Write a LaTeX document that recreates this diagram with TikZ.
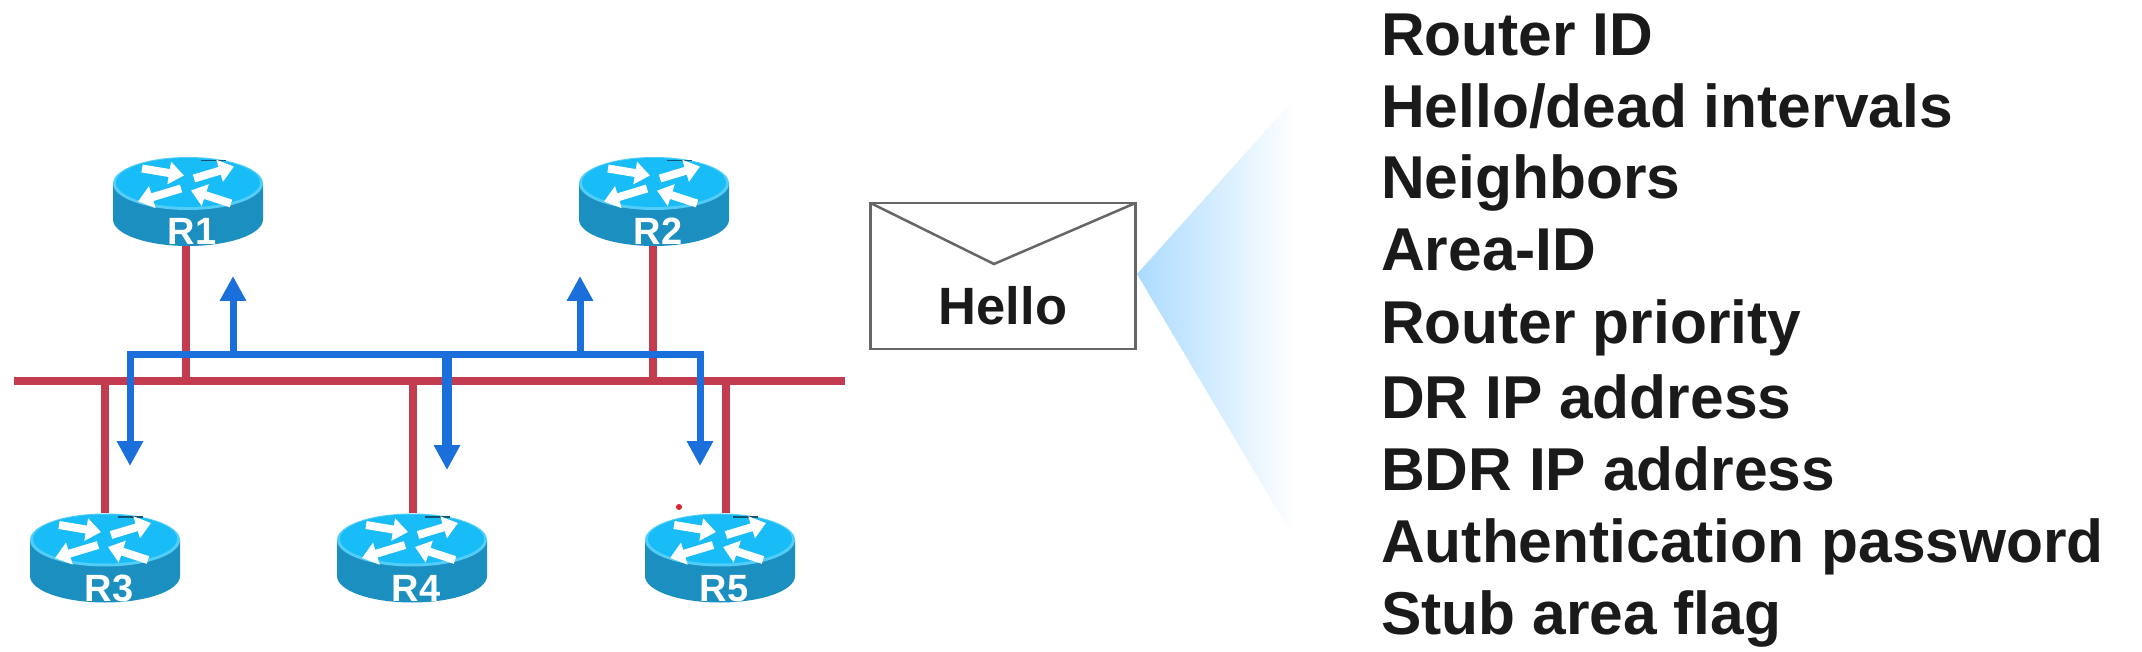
\documentclass[tikz,border=0pt]{standalone}
\usepackage{fontspec}
\setmainfont{Liberation Sans}
\usetikzlibrary{arrows.meta}
\definecolor{rtop}{HTML}{18BCF6}
\definecolor{rside}{HTML}{1A8FC0}
\definecolor{rred}{HTML}{C23B4E}
\definecolor{rblue}{HTML}{1B6FDB}
\definecolor{envgray}{HTML}{666666}
\definecolor{txt}{HTML}{1A1A1A}
\definecolor{fanblue}{HTML}{ABDBFF}
\definecolor{fanmid}{HTML}{CBEBFF}
\definecolor{fanend}{HTML}{FFFFFF}
\tikzset{
  redline/.style={rred,line width=7.5pt},
  bluearrow/.style={rblue,line width=7pt,-{Triangle[width=25pt,length=25pt]}},
  bluedouble/.style={rblue,line width=7pt,{Triangle[width=25pt,length=25pt]}-{Triangle[width=25pt,length=25pt]}},
  routerbox/.style={minimum width=150pt,minimum height=90pt,inner sep=0pt,outer sep=0pt},
  routerlabel/.style={text=white,font=\fontsize{38}{38}\selectfont\bfseries,inner sep=0pt,anchor=base},
  wa/.style={white,line width=8pt,-{Triangle[width=22pt,length=15pt]}},
  listitem/.style={anchor=base west,inner sep=0pt,text=txt,font=\fontsize{60.5}{60.5}\selectfont\bfseries},
}
\newcommand{\routerat}[3]{%
  \begin{scope}[shift={(#2,#3)}]
    \fill[rside] (-75,0) -- (-75,36) arc[start angle=180,end angle=0,x radius=75,y radius=26.5] -- (75,0) -- cycle;
    \fill[rtop!75!white] (0,0) ellipse[x radius=75,y radius=26.5];
    \fill[rtop] (0,-1) ellipse[x radius=72,y radius=24.5];
    \draw[rside!60!black,line width=1.5pt] (13,-23) -- (38,-23);
    \draw[wa] (-46,-15) -- (-4,-8);
    \draw[wa] (6,-5) -- (46,-17);
    \draw[wa] (-7,5) -- (-50,18);
    \draw[wa] (43,20) -- (3,7);
    \node[routerlabel] (#1-label) at (4,61.5) {#1};
  \end{scope}
  \node[routerbox] (#1) at (#2,#3+18) {};
}
\begin{document}
\begin{tikzpicture}[x=1pt,y=-1pt]
\useasboundingbox (0,0) rectangle (2142,652);
% bus and junction points
\coordinate (busL) at (14,381);
\coordinate (busR) at (845,381);
\coordinate (b1) at (186,381);
\coordinate (b2) at (653,381);
\coordinate (b3) at (105,381);
\coordinate (b4) at (413,381);
\coordinate (b5) at (726,381);
\coordinate (rL) at (130,354);
\coordinate (rR) at (700,354);
\coordinate (u1) at (233,354);
\coordinate (u2) at (580,354);
\coordinate (um) at (447,354);
\coordinate (t1) at (233,276);
\coordinate (t2) at (580,276);
\coordinate (t3) at (130,466);
\coordinate (t4) at (447,470);
\coordinate (t5) at (700,466);
% routers
\routerat{R1}{188}{183.5}
\routerat{R2}{654}{183.5}
\routerat{R3}{105}{540}
\routerat{R4}{412}{540}
\routerat{R5}{720}{540}
% red network
\draw[redline] (busL) -- (busR);
\draw[redline] (R1.south -| b1) -- (b1);
\draw[redline] (R2.south -| b2) -- (b2);
\draw[redline] (b3) -- (R3.north -| b3);
\draw[redline] (b4) -- (R4.north -| b4);
\draw[redline] (b5) -- (R5.north -| b5);
% blue flood
\draw[bluedouble] (t3) -- (rL) -- (rR) -- (t5);
\draw[bluearrow] (u1) -- (t1);
\draw[bluearrow] (u2) -- (t2);
\draw[bluearrow,line width=10pt] (um) -- (t4);
% stray dot
\fill[rred!60!red] (679,507) circle[radius=3];
% fan
\shade[left color=fanblue,middle color=fanmid,right color=fanend] (1137,274) -- (1295,98) -- (1295,540) -- cycle;
% envelope
\node[draw=envgray,line width=2.5pt,minimum width=265pt,minimum height=146pt,inner sep=0pt,outer sep=0pt] (env) at (1003,276) {};
\coordinate (vtip) at (994,264);
\draw[envgray,line width=2.5pt] (env.north west) -- (vtip) -- (env.north east);
\node[anchor=base,inner sep=0pt,text=txt,font=\fontsize{52.5}{52.5}\selectfont\bfseries] (hello) at (1003,325) {Hello};
% list
\node[listitem] (i1) at (1381,56) {Router ID};
\node[listitem] (i2) at (1381,128) {Hello/dead intervals};
\node[listitem] (i3) at (1381,199) {Neighbors};
\node[listitem] (i4) at (1381,271) {Area-ID};
\node[listitem] (i5) at (1381,344) {Router priority};
\node[listitem] (i6) at (1381,418) {DR IP address};
\node[listitem] (i7) at (1381,490) {BDR IP address};
\node[listitem] (i8) at (1381,562) {Authentication password};
\node[listitem] (i9) at (1381,634) {Stub area flag};
\end{tikzpicture}
\end{document}
